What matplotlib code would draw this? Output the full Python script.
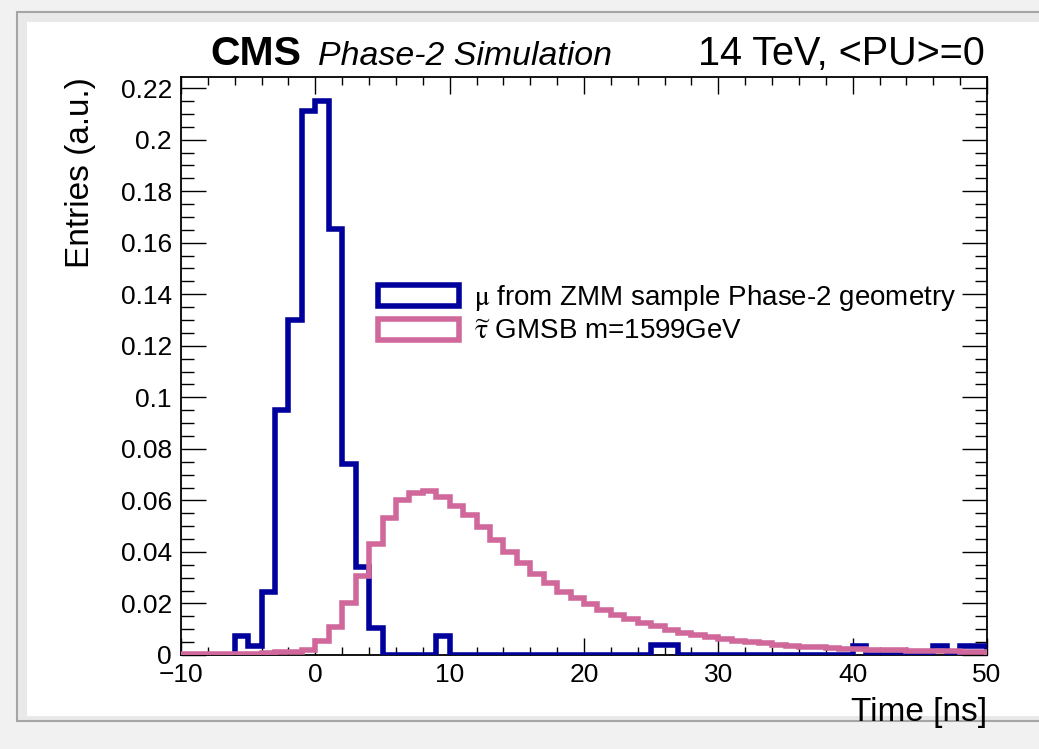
import matplotlib
matplotlib.use("Agg")
import matplotlib.pyplot as plt
import matplotlib.patches as patches
from matplotlib.ticker import MultipleLocator, FuncFormatter
import numpy as np

plt.rcParams['font.family'] = ['Liberation Sans', 'DejaVu Sans']
plt.rcParams['mathtext.fontset'] = 'stix'

# bin edges: 1 ns bins from -10 to 50
edges = np.arange(-10, 51, 1)

# muons from ZMM sample, normalised
muon = [0, 0, 0, 0, 0.0072, 0.0036, 0.0245, 0.095, 0.130, 0.211,
        0.215, 0.1655, 0.0740, 0.0343, 0.0103, 0, 0, 0, 0, 0.0072,
        0, 0, 0, 0, 0, 0, 0, 0, 0, 0,
        0, 0, 0, 0, 0, 0.0037, 0.0037, 0, 0, 0,
        0, 0, 0, 0, 0, 0, 0, 0, 0, 0,
        0.0036, 0, 0, 0, 0, 0, 0.0036, 0, 0.0036, 0.0036]

# stau GMSB m=1599 GeV, normalised
stau = [0.0002, 0.0002, 0.0003, 0.0003, 0.0004, 0.0005, 0.0007, 0.0010, 0.0013, 0.0020,
        0.0055, 0.0107, 0.0200, 0.0307, 0.0430, 0.0530, 0.0600, 0.0630, 0.0637, 0.0615,
        0.0580, 0.0543, 0.0495, 0.0446, 0.0400, 0.0356, 0.0314, 0.0278, 0.0246, 0.0220,
        0.0196, 0.0176, 0.0155, 0.0141, 0.0124, 0.0111, 0.0098, 0.0087, 0.0078, 0.0069,
        0.0062, 0.0056, 0.0050, 0.0045, 0.0040, 0.0036, 0.0032, 0.0030, 0.0027, 0.0024,
        0.0023, 0.0021, 0.0020, 0.0018, 0.0017, 0.0016, 0.0015, 0.0014, 0.0013, 0.0012]

labels = [r'$\mathrm{\mu}$ from ZMM sample Phase-2 geometry', r'$\widetilde{\mathrm{\tau}}$ GMSB m=1599GeV']
colors = ['#00009c', '#d0689c']

W, H = 1039, 749
fig = plt.figure(figsize=(W / 100, H / 100), dpi=100)
fig.patch.set_facecolor('#f1f1f1')

# slide-like panel behind the canvas
fig.patches.append(patches.Rectangle((17 / W, 1 - 721 / H), 1.0, 709 / H, transform=fig.transFigure,
                                     facecolor='#e9e9e9', edgecolor='#a5a5a5', lw=1.5, zorder=-2))
fig.patches.append(patches.Rectangle((27 / W, 1 - 716 / H), 1.0, 694 / H, transform=fig.transFigure,
                                     facecolor='white', edgecolor='none', zorder=-1))

ax = fig.add_axes([181 / W, 1 - 655 / H, 806 / W, 578 / H])
ax.set_zorder(2)
ax.set_facecolor('none')

ax.stairs(muon, edges, baseline=0, color=colors[0], lw=4, zorder=3)
ax.stairs(stau, edges, baseline=0, color=colors[1], lw=4, zorder=4)

ax.set_xlim(-10, 50)
ax.set_ylim(0, 0.2243)

ax.xaxis.set_major_locator(MultipleLocator(10))
ax.xaxis.set_minor_locator(MultipleLocator(2))
ax.yaxis.set_major_locator(MultipleLocator(0.02))
ax.yaxis.set_minor_locator(MultipleLocator(0.005))
ax.yaxis.set_major_formatter(FuncFormatter(lambda v, p: f'{v:g}'))

ax.tick_params(which='both', direction='in', top=True, right=True, width=1.0, color='black')
ax.tick_params(axis='y', which='major', length=18, pad=6.5, labelsize=19)
ax.tick_params(axis='y', which='minor', length=9)
ax.tick_params(axis='x', which='major', length=12.2, pad=5.5, labelsize=19)
ax.tick_params(axis='x', which='minor', length=6.1)
for s in ax.spines.values():
    s.set_linewidth(1.3)

ylab = ax.set_ylabel('Entries (a.u.)', loc='top', fontsize=24)
ax.yaxis.set_label_coords(-0.1253, 1.0)
ylab.set_va('center')
xlab = ax.set_xlabel('Time [ns]', loc='right', fontsize=24)
ax.xaxis.set_label_coords(1.0, -(713 - 655) / 578)
xlab.set_va('center')

# header
fig.text(210 / W, 1 - 65 / H, 'CMS', fontsize=29.5, fontweight='bold', ha='left', va='baseline')
fig.text(318 / W, 1 - 65 / H, 'Phase-2 Simulation', fontsize=24.4, style='italic', ha='left', va='baseline')
fig.text(985 / W, 1 - 65 / H, '14 TeV, <PU>=0', fontsize=28.5, ha='right', va='baseline')

handles = [patches.Patch(facecolor='none', edgecolor=c, lw=4) for c in colors]
ax.legend(handles, labels, loc='upper left', bbox_to_anchor=(378 / W, 1 - 283 / H),
          bbox_transform=fig.transFigure, frameon=False, fontsize=20, borderpad=0,
          handlelength=2.9, handleheight=0.8, handletextpad=0.55, labelspacing=0.2,
          borderaxespad=0)

fig.savefig('out.png', dpi=100, facecolor=fig.get_facecolor())
